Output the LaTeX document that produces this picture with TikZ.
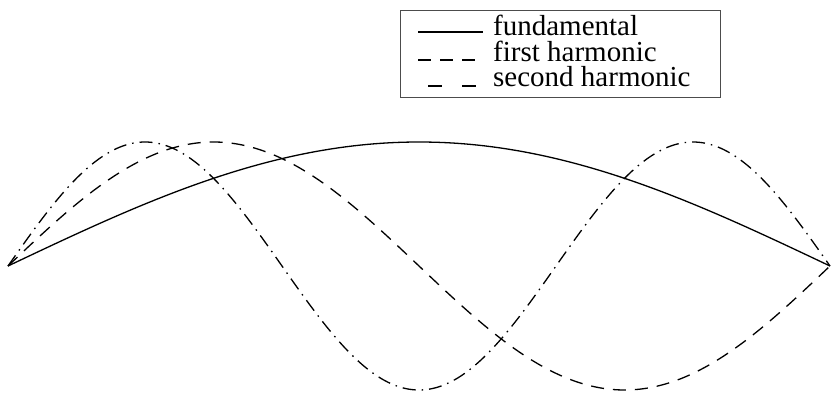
\documentclass[tikz,border=0pt]{standalone}
\usepackage{fontspec}
\setmainfont{Liberation Serif}
\begin{document}
\begin{tikzpicture}[x=1pt,y=-1pt,
  curve/.style={line width=1.3pt, black},
  legtext/.style={anchor=base west, inner sep=0pt, align=left, font=\fontsize{29}{25.5}\selectfont},
  dashA/.style={dash pattern=on 13pt off 9pt},
  dashB/.style={dash pattern=on 13pt off 6pt on 1.5pt off 6pt}]
\useasboundingbox (0,0) rectangle (835,393);
% legend
\node[draw=black!70, line width=1pt, minimum width=320pt, minimum height=87pt, anchor=north west, inner sep=0pt] (leg) at (400,10) {};
\coordinate (l1a) at (418,32); \coordinate (l1b) at (483,32);
\coordinate (l2a) at (418,60); \coordinate (l2b) at (483,60);
\coordinate (l3a) at (428,86); \coordinate (l3b) at (483,86);
\draw[curve] (l1a) -- (l1b);
\draw[curve,dashA] (l2a) -- (l2b);
\draw[curve,dash pattern=on 14pt off 20pt] (l3a) -- (l3b);
\node[legtext] (t1) at (493,87) {fundamental\\first harmonic\\second harmonic};
% curves
\draw[curve, domain=8:830, samples=200] plot (\x, {266 - 124*sin(0.2189781*(\x-8))});
\draw[curve, dashA, domain=8:830, samples=300] plot (\x, {266 - 124*sin(0.4379562*(\x-8))});
\draw[curve, dashB, domain=8:830, samples=400] plot (\x, {266 - 124*sin(0.6569343*(\x-8))});
\end{tikzpicture}
\end{document}
